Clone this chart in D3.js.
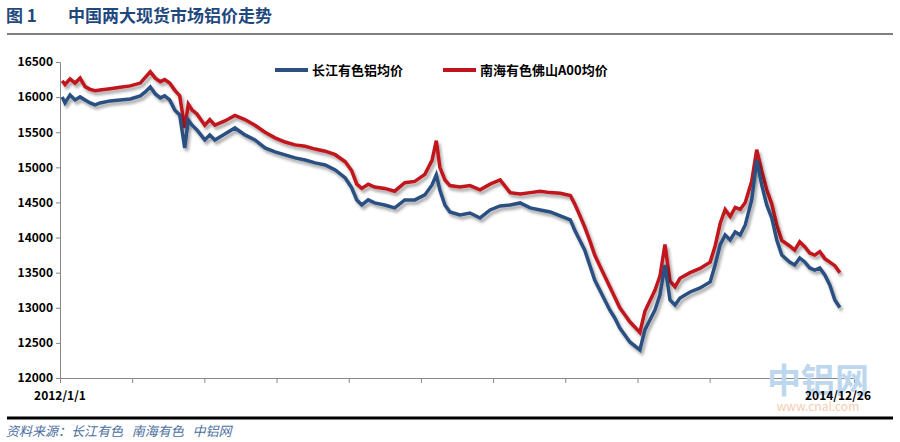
<!DOCTYPE html><html><head><meta charset="utf-8"><script src="https://cdn.jsdelivr.net/npm/d3@7"></script>
<style>body{margin:0;background:#fff}text{font-family:"Noto Sans CJK SC","DejaVu Sans",sans-serif}</style></head><body><svg id="c" width="900" height="442"></svg>
<script>
const xPix=[62,65,70,75,80,85,90,95,100,110,120,130,140,145,150,155,160,165,170,175,180,185,188,192,197,205,210,215,225,235,245,255,265,275,285,295,305,315,325,335,345,352,357,362,368,375,385,395,405,415,425,432,436,440,445,450,460,470,480,490,500,510,520,530,540,550,560,570,575,580,585,590,595,600,605,610,615,620,625,630,640,645,650,655,660,665,670,675,680,690,700,710,715,720,725,730,735,740,745,752,757,762,767,772,777,782,790,795,800,805,810,815,820,825,830,835,840];
const days=xPix.map(p=>Math.round((p-60)*1091/782));
const changjiang=[16003,15917,16031,15960,16003,15960,15917,15889,15917,15946,15960,15974,16017,16074,16145,16045,15988,16017,15960,15818,15746,15276,15675,15604,15533,15390,15462,15390,15476,15561,15462,15390,15276,15219,15177,15134,15105,15063,15034,14963,14849,14707,14536,14464,14536,14493,14464,14422,14536,14536,14607,14749,14892,14678,14464,14365,14322,14350,14279,14393,14450,14464,14493,14422,14393,14365,14308,14251,14108,13966,13823,13610,13396,13254,13111,12969,12855,12712,12613,12513,12399,12684,12826,12969,13182,13610,13111,13040,13140,13225,13282,13368,13610,13895,14037,13966,14080,14037,14179,14536,15105,14749,14464,14279,13966,13752,13652,13610,13709,13652,13567,13538,13567,13467,13325,13111,13003];
const nanhai=[16230,16180,16260,16200,16270,16150,16110,16090,16100,16120,16140,16160,16200,16280,16360,16270,16220,16250,16200,16100,16020,15560,15900,15820,15760,15600,15680,15600,15660,15740,15680,15600,15500,15420,15360,15320,15300,15260,15230,15180,15080,14950,14760,14700,14760,14720,14700,14660,14780,14800,14900,15100,15380,15000,14820,14740,14720,14740,14680,14760,14820,14640,14620,14640,14660,14640,14630,14600,14480,14320,14150,13960,13750,13600,13450,13300,13150,13000,12900,12800,12650,12950,13100,13250,13450,13900,13380,13300,13420,13500,13560,13650,13880,14200,14400,14300,14430,14400,14500,14800,15250,14950,14680,14480,14180,13960,13880,13820,13940,13870,13780,13750,13800,13700,13650,13600,13500];
const yTicks=[12000,12500,13000,13500,14000,14500,15000,15500,16000,16500];
const xLabels=["2012/1/1","2014/12/26"];
const svg=d3.select("#c");
const defs=svg.append("defs");
const f=defs.append("filter").attr("id","sh").attr("x","-5%").attr("y","-5%").attr("width","110%").attr("height","120%");
f.append("feDropShadow").attr("dx",2).attr("dy",3).attr("stdDeviation",1.5).attr("flood-color","#000").attr("flood-opacity",0.35);
svg.append("text").attr("x",6).attr("y",22).attr("fill","#1f497d").attr("font-size",17).attr("font-weight","bold").text("图 1");
svg.append("text").attr("x",68).attr("y",22).attr("fill","#1f497d").attr("font-size",17).attr("font-weight","bold").text("中国两大现货市场铝价走势");
svg.append("line").attr("x1",7).attr("x2",893).attr("y1",34).attr("y2",34).attr("stroke","#000").attr("stroke-width",1.2);
const x=d3.scaleLinear().domain([0,1091]).range([60,842]);
const y=d3.scaleLinear().domain([12000,16500]).range([378,62]);
const ya=svg.append("g").attr("transform","translate(60,0)").call(d3.axisLeft(y).tickValues(yTicks).tickSize(4).tickFormat(d3.format("d")));
ya.selectAll("text").attr("font-size",12).attr("font-weight","bold").attr("fill","#000").attr("font-family","Liberation Sans, sans-serif");
ya.select(".domain").attr("stroke","#888");ya.selectAll("line").attr("stroke","#888");
const xt=d3.scaleLinear().domain([0,11]).range([60,854]);
const xa=svg.append("g").attr("transform","translate(0,378)").call(d3.axisBottom(xt).tickValues(d3.range(12)).tickSize(5).tickSizeOuter(0).tickFormat(""));
xa.select(".domain").attr("stroke","#888");xa.selectAll("line").attr("stroke","#888");
const wm=svg.append("g");
wm.append("text").attr("x",818).attr("y",393).attr("text-anchor","middle").attr("font-size",34).attr("font-weight","bold").attr("fill","#bcd7ee").text("中铝网");
wm.append("text").attr("x",818).attr("y",411).attr("text-anchor","middle").attr("font-size",12).attr("fill","#f4cdb0").attr("font-family","Liberation Sans").text("www.cnal.com");
svg.selectAll(".xl").data(xLabels).join("text").attr("x",(d,i)=>i?x(1091)-4:x(0)).attr("y",400).attr("text-anchor","middle").attr("font-size",12).attr("font-weight","bold").attr("font-family","Liberation Sans, sans-serif").text(d=>d);
const line=d3.line().x((d,i)=>x(days[i])).y(d=>y(d)).curve(d3.curveLinear);
svg.append("path").datum(nanhai).attr("d",line).attr("fill","none").attr("stroke","#c0141c").attr("stroke-width",3.5).attr("filter","url(#sh)");
svg.append("path").datum(changjiang).attr("d",line).attr("fill","none").attr("stroke","#2b4f81").attr("stroke-width",3.5).attr("filter","url(#sh)");
const leg=[["长江有色铝均价","#2b4f81",275],["南海有色佛山A00均价","#c0141c",443]];
leg.forEach(([t,c,lx])=>{svg.append("line").attr("x1",lx).attr("x2",lx+33).attr("y1",70).attr("y2",70).attr("stroke",c).attr("stroke-width",4);
svg.append("text").attr("x",lx+37).attr("y",75).attr("font-size",13).attr("font-weight","bold").text(t);});
svg.append("line").attr("x1",7).attr("x2",893).attr("y1",418).attr("y2",418).attr("stroke","#000").attr("stroke-width",3);
svg.append("text").attr("x",6).attr("y",436).attr("font-size",13).attr("font-style","italic").attr("fill","#4a6fa0").attr("xml:space","preserve").text("资料来源：长江有色   南海有色   中铝网");
</script></body></html>
